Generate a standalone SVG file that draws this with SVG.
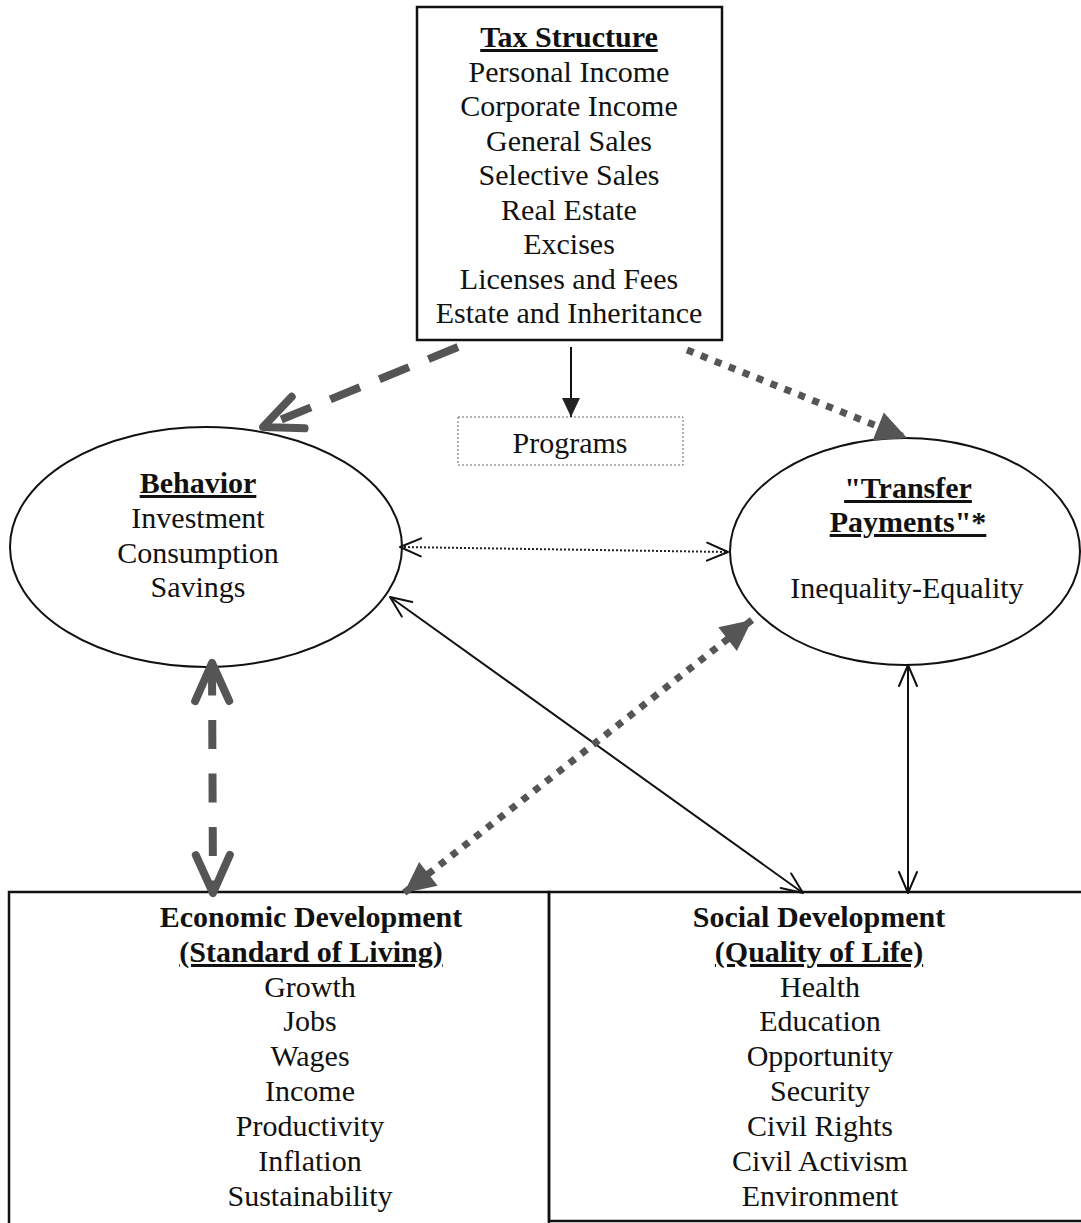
<svg xmlns="http://www.w3.org/2000/svg" width="1081" height="1223" viewBox="0 0 1081 1223">
<style>
text{font-family:"Liberation Serif","Times New Roman",serif;font-size:30px;fill:#111;text-anchor:middle}
.b{font-weight:bold}
.u{text-decoration:underline}
.box{fill:none;stroke:#111;stroke-width:2.5}
.ell{fill:#fff;stroke:#111;stroke-width:2}
.thickDash{fill:none;stroke:#555;stroke-width:8;stroke-dasharray:32 21}
.thickDot{fill:none;stroke:#555;stroke-width:7;stroke-dasharray:7 8}
.thinDot{fill:none;stroke:#222;stroke-width:2;stroke-dasharray:2 2}
.thin{fill:none;stroke:#111;stroke-width:2}
</style>
<defs>
<marker id="chev" markerUnits="userSpaceOnUse" orient="auto-start-reverse" refX="0" refY="0" markerWidth="90" markerHeight="90" overflow="visible">
<path d="M-38,-17 L0,0 L-38,17" fill="none" stroke="#555" stroke-width="8" stroke-linecap="round" stroke-linejoin="round"/>
</marker>
<marker id="tri" markerUnits="userSpaceOnUse" orient="auto-start-reverse" refX="0" refY="0" markerWidth="90" markerHeight="90" overflow="visible">
<path d="M0,0 L-31,-15 L-31,15 Z" fill="#555"/>
</marker>
<marker id="vee" markerUnits="userSpaceOnUse" orient="auto-start-reverse" refX="0" refY="0" markerWidth="60" markerHeight="60" overflow="visible">
<path d="M-21,-9 L0,0 L-21,9" fill="none" stroke="#111" stroke-width="2" stroke-linecap="round" stroke-linejoin="round"/>
</marker>
<marker id="smallTri" markerUnits="userSpaceOnUse" orient="auto" refX="0" refY="0" markerWidth="60" markerHeight="60" overflow="visible">
<path d="M0,0 L-19,-9 L-19,9 Z" fill="#222"/>
</marker>
</defs>
<rect width="1081" height="1223" fill="#fff"/>

<g id="tax-structure">
<rect class="box" x="417" y="7" width="305" height="333"/>
<text x="569" y="47" class="b u">Tax Structure</text>
<text x="569" y="81.5">Personal Income</text>
<text x="569" y="116">Corporate Income</text>
<text x="569" y="150.5">General Sales</text>
<text x="569" y="185">Selective Sales</text>
<text x="569" y="219.5">Real Estate</text>
<text x="569" y="254">Excises</text>
<text x="569" y="288.5">Licenses and Fees</text>
<text x="569" y="323">Estate and Inheritance</text>
</g>

<g id="programs">
<rect x="458" y="417" width="225" height="48" fill="none" stroke="#666" stroke-width="1" stroke-dasharray="2 2"/>
<text x="570" y="453">Programs</text>
</g>

<g id="behavior">
<ellipse class="ell" cx="206" cy="547" rx="196" ry="120"/>
<text x="198" y="493" class="b u">Behavior</text>
<text x="198" y="528">Investment</text>
<text x="198" y="563">Consumption</text>
<text x="198" y="597">Savings</text>
</g>

<g id="transfer-payments">
<ellipse class="ell" cx="905" cy="551.5" rx="175" ry="113.5"/>
<text x="908" y="498" class="b u">"Transfer</text>
<text x="908" y="532" class="b u">Payments"*</text>
<text x="907" y="598">Inequality-Equality</text>
</g>

<g id="economic-development">
<rect class="box" x="9" y="892" width="540" height="345"/>
<text x="311" y="927" class="b">Economic Development</text>
<text x="311" y="962" class="b u">(Standard of Living)</text>
<text x="310" y="997">Growth</text>
<text x="310" y="1031">Jobs</text>
<text x="310" y="1066">Wages</text>
<text x="310" y="1101">Income</text>
<text x="310" y="1136">Productivity</text>
<text x="310" y="1171">Inflation</text>
<text x="310" y="1206">Sustainability</text>
</g>

<g id="social-development">
<rect class="box" x="549" y="892" width="545" height="329"/>
<text x="819" y="927" class="b">Social Development</text>
<text x="819" y="962" class="b u">(Quality of Life)</text>
<text x="820" y="997">Health</text>
<text x="820" y="1031">Education</text>
<text x="820" y="1066">Opportunity</text>
<text x="820" y="1101">Security</text>
<text x="820" y="1136">Civil Rights</text>
<text x="820" y="1171">Civil Activism</text>
<text x="820" y="1206">Environment</text>
</g>

<g id="connectors">
<path class="thickDash" d="M458,347 L263,427" marker-end="url(#chev)"/>
<path class="thickDot" d="M687,350 L907,438" marker-end="url(#tri)"/>
<path class="thin" d="M571,347 L571,417" marker-end="url(#smallTri)"/>
<path class="thinDot" d="M400,547 L728,552" marker-start="url(#vee)" marker-end="url(#vee)"/>
<path class="thin" d="M390,597 L803,893" marker-start="url(#vee)" marker-end="url(#vee)"/>
<path class="thickDot" d="M752,620 L404,893" marker-start="url(#tri)" marker-end="url(#tri)"/>
<path class="thickDash" d="M212,663 L213,893" style="stroke-dasharray:29 24.5;stroke-dashoffset:-3.5" marker-start="url(#chev)" marker-end="url(#chev)"/>
<path class="thin" d="M908,665 L908,893" marker-start="url(#vee)" marker-end="url(#vee)"/>
</g>
</svg>
